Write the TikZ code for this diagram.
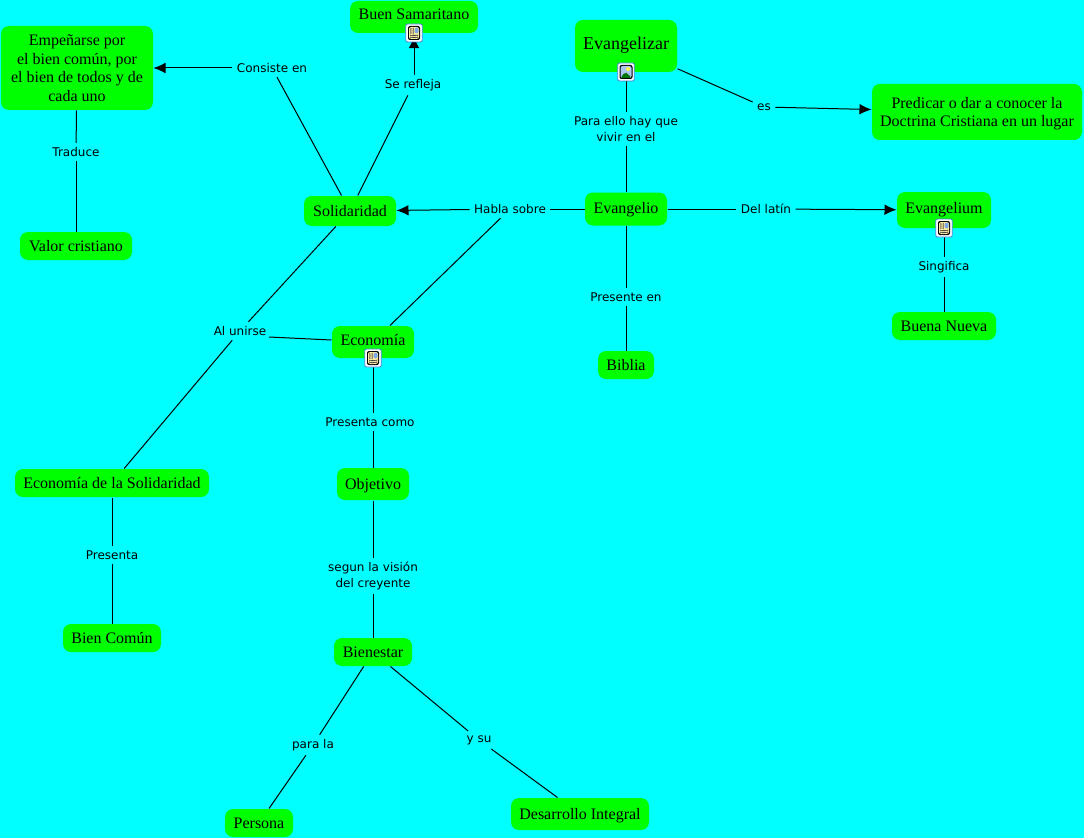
\documentclass[tikz,border=0pt]{standalone}
\usepackage{fontspec}
\setmainfont{Liberation Serif}
\newfontfamily\labelfont{DejaVu Sans}
\usetikzlibrary{shapes,arrows.meta,positioning,calc}
\definecolor{mapbg}{RGB}{0,255,255}
\definecolor{conceptgreen}{RGB}{0,255,0}
\definecolor{iconblue}{RGB}{70,130,220}
\definecolor{icontan}{RGB}{255,240,160}
\tikzset{
concept/.style = {fill=conceptgreen, rectangle, rounded corners=6pt, align=center, font=\fontsize{12}{14}\selectfont, inner sep=1pt, text depth=0pt},
size/.style 2 args = {minimum width=#1*0.75pt, minimum height=#2*0.75pt},
linklabel/.style = {align=center, font=\labelfont\fontsize{9}{11.5}\selectfont, inner sep=3pt},
iconbox/.style = {draw=iconblue, fill=white, line width=0.6pt, rounded corners=1.5pt, minimum width=12.5pt, minimum height=13.5pt, inner sep=0pt},
docicon/.style = {iconbox, path picture={
    \fill [black, shift={(path picture bounding box.center)}] (-6,-7) rectangle (6,7);
    \fill [icontan, shift={(path picture bounding box.center)}] (-5,-6) rectangle (5,6);
    \fill [black!70, shift={(path picture bounding box.center)}] (-4,-4.5) rectangle (-0.5,-3.5) (-4,-2.5) rectangle (-0.5,-1.5) (-4,-0.5) rectangle (-0.5,0.5) (-4,2) rectangle (4,3) (-4,4) rectangle (4,5);
    \fill [iconblue!70, shift={(path picture bounding box.center)}] (0.5,-5.5) rectangle (4.5,0.5);
}},
imgicon/.style = {iconbox, path picture={
    \fill [black, shift={(path picture bounding box.center)}] (-6.5,-7) rectangle (6.5,7);
    \fill [iconblue!45, shift={(path picture bounding box.center)}] (-5.5,-6) rectangle (5.5,6);
    \fill [yellow!70!white, shift={(path picture bounding box.center)}] (2,-3) circle (2);
    \fill [green!45!black, shift={(path picture bounding box.center)}] (-5.5,6) -- (-1,0) -- (1.5,1.5) -- (5.5,6) -- cycle;
}},
}

\begin{document}
\begin{tikzpicture}[x=0.75pt, y=-0.75pt, >={Latex[length=9pt,width=8pt]}, line width=0.75pt]
    \useasboundingbox [fill=mapbg] (0,0) rectangle (1084,838);
    \node [concept, size={128}{32}, text depth=3.8pt] (samaritano) at (414,17) {Buen Samaritano};
    \node [concept, size={152}{84}] (empeno) at (77,68) {Empeñarse por\\el bien común, por\\el bien de todos y de\\cada uno};
    \node [concept, size={102}{52}, font=\fontsize{13.5}{15}\selectfont, text depth=4.2pt] (evangelizar) at (626,46) {Evangelizar};
    \node [concept, size={210}{56}] (predicar) at (977,112) {Predicar o dar a conocer la\\Doctrina Cristiana en un lugar};
    \node [concept, size={92}{30}] (solidaridad) at (350,211) {Solidaridad};
    \node [concept, size={82}{33}, text depth=1.5pt] (evangelio) at (626,209) {Evangelio};
    \node [concept, size={94}{36}, text depth=3pt] (evangelium) at (944,210) {Evangelium};
    \node [concept, size={112}{28}] (valor) at (76,246) {Valor cristiano};
    \node [concept, size={104}{28}] (nueva) at (944,326) {Buena Nueva};
    \node [concept, size={56}{28}] (biblia) at (626,365) {Biblia};
    \node [concept, size={82}{32}, text depth=3pt] (economia) at (373,342) {Economía};
    \node [concept, size={72}{32}] (objetivo) at (373,484) {Objetivo};
    \node [concept, size={194}{28}] (ecosol) at (112,483) {Economía de la Solidaridad};
    \node [concept, size={98}{28}] (comun) at (112,638) {Bien Común};
    \node [concept, size={78}{28}] (bienestar) at (373,652) {Bienestar};
    \node [concept, size={68}{28}] (persona) at (259,823) {Persona};
    \node [concept, size={138}{32}] (desarrollo) at (580,814) {Desarrollo Integral};

    \node [linklabel] (refleja) at (413,85) {Se refleja};
    \node [linklabel] (consiste) at (272,68) {Consiste en};
    \node [linklabel] (traduce) at (76,152) {Traduce};
    \node [linklabel] (paraello) at (626,129) {Para ello hay que\\vivir en el};
    \node [linklabel] (es) at (764,107) {es};
    \node [linklabel] (habla) at (510,209) {Habla sobre};
    \node [linklabel] (latin) at (766,209) {Del latín};
    \node [linklabel] (singifica) at (944,267) {Singifica};
    \node [linklabel] (presente) at (626,297) {Presente en};
    \node [linklabel] (unirse) at (240,331) {Al unirse};
    \node [linklabel] (presentacomo) at (370,422) {Presenta como};
    \node [linklabel] (presenta) at (112,555) {Presenta};
    \node [linklabel] (segun) at (373,576) {segun la visión\\del creyente};
    \node [linklabel] (parala) at (313,745) {para la};
    \node [linklabel] (ysu) at (479,740) {y su};
    \coordinate (unirseend) at (269,337);

    \draw (solidaridad) -- (consiste);
    \draw [->] (consiste) -- (empeno);
    \draw (solidaridad) -- (refleja);
    \draw [->, shorten >=2pt] (refleja.north -| samaritano) -- (samaritano);
    \draw (empeno) -- (traduce);
    \draw (traduce) -- (valor);
    \draw (evangelizar) -- (paraello);
    \draw (paraello) -- (evangelio);
    \draw (evangelizar) -- (es);
    \draw [->] (es) -- (predicar);
    \draw (evangelio) -- (habla);
    \draw [->] (habla) -- (solidaridad);
    \draw (habla) -- (economia);
    \draw (evangelio) -- (latin);
    \draw [->] (latin) -- (evangelium);
    \draw (evangelium) -- (singifica);
    \draw (singifica) -- (nueva);
    \draw (evangelio) -- (presente);
    \draw (presente) -- (biblia);
    \draw (solidaridad) -- (unirse);
    \draw (economia) -- (unirseend);
    \draw (unirse) -- (ecosol);
    \draw (economia) -- (presentacomo.north -| economia);
    \draw (presentacomo.south -| objetivo) -- (objetivo);
    \draw (ecosol) -- (presenta);
    \draw (presenta) -- (comun);
    \draw (objetivo) -- (segun);
    \draw (segun) -- (bienestar);
    \draw (bienestar) -- (parala);
    \draw (parala) -- (persona);
    \draw (bienestar) -- (ysu);
    \draw (ysu) -- (desarrollo);

    \node [docicon] (iconsamaritano) at (414,33) {};
    \node [imgicon] (iconevangelizar) at (626,72) {};
    \node [docicon] (iconevangelium) at (944,228) {};
    \node [docicon] (iconeconomia) at (373,358) {};
\end{tikzpicture}
\end{document}
